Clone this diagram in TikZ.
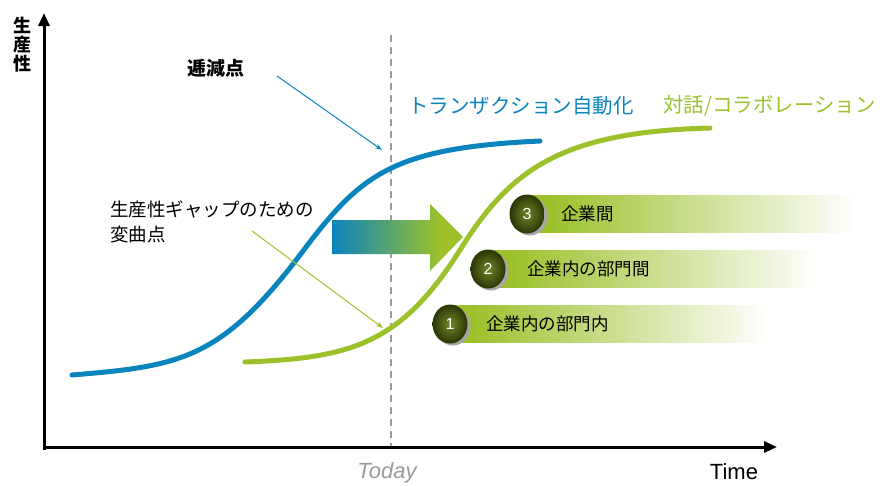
\documentclass[tikz,border=0pt]{standalone}
\usepackage{fontspec}
\setmainfont{Liberation Sans}
\newfontfamily\jp{Noto Sans CJK JP}
\usetikzlibrary{arrows.meta}
\definecolor{tblue}{HTML}{0A84BC}
\definecolor{tgreen}{HTML}{9CC12B}
\definecolor{ballin}{HTML}{71862A}
\definecolor{ballout}{HTML}{2B3605}
\definecolor{dgray}{HTML}{9A9A9A}
\pgfdeclarehorizontalshading{barfade}{100bp}{color(0bp)=(tgreen); color(28bp)=(tgreen); color(74bp)=(white); color(100bp)=(white)}
\pgfdeclarehorizontalshading{bigarrow}{100bp}{color(0bp)=(tblue); color(25bp)=(tblue); color(66bp)=(tgreen); color(100bp)=(tgreen)}
\tikzset{
  axis/.style={line width=3pt, -{Triangle[length=13pt,width=11pt]}},
  curve/.style={line width=5pt, line cap=round},
  pointer/.style={line width=1pt, -{Stealth[length=7pt,width=5pt]}},
  bar/.style={shading=barfade},
  ballshade/.style={inner color=ballin, outer color=ballout},
  ballnode/.style={circle, minimum width=34pt, minimum height=34pt, inner sep=0pt, text=white, font=\fontsize{16}{16}\selectfont},
  bartext/.style={anchor=west, font=\jp\fontsize{17.5}{17.5}\selectfont, inner sep=0pt},
  jlabel/.style={font=\jp\fontsize{18.5}{25}\selectfont, inner sep=0pt},
}
\begin{document}
\begin{tikzpicture}[x=1pt,y=-1pt]
\useasboundingbox (0,0) rectangle (885,485);
% dashed today line
\coordinate (dtop) at (391,35);
\coordinate (dbot) at (391,447);
\draw[dgray, line width=1.5pt, dash pattern=on 7pt off 5pt] (dtop) -- (dbot);
% axes
\coordinate (origin) at (44,447);
\coordinate (ytip) at (44,13);
\coordinate (xtip) at (777,447);
\draw[axis] (44,450) -- (ytip);
\draw[axis] (origin) -- (xtip);
\node[font=\jp\bfseries\fontsize{18}{19}\selectfont, align=center, inner sep=0pt] (ylab) at (22,45) {生\\産\\性};
\node[font=\fontsize{22}{22}\selectfont\itshape, text=dgray, inner sep=0pt] (today) at (387,473) {Today};
\node[font=\fontsize{22}{22}\selectfont, inner sep=0pt] (time) at (734,472) {Time};
% curves
\draw[curve, tblue] (72,375) .. controls (180,366) and (220,360) .. (300,255) .. controls (360,175) and (390,148) .. (540,141);
\draw[curve, tgreen] (245,362) .. controls (350,358) and (400,345) .. (460,250) .. controls (510,170) and (560,132) .. (710,128);
% labels
\node[jlabel, font=\jp\bfseries\fontsize{19}{20}\selectfont] (dim) at (216,68) {逓減点};
\node[jlabel, text=tblue, font=\jp\fontsize{20.5}{20}\selectfont, anchor=west] (tx) at (408,106) {トランザクション自動化};
\node[jlabel, text=tgreen, font=\jp\fontsize{20.5}{20}\selectfont, anchor=west] (co) at (663,106) {対話/コラボレーション};
\node[jlabel, align=left, anchor=north west] (gap) at (110,201) {生産性ギャップのための\\変曲点};
\coordinate (p1s) at (277,76);
\coordinate (p1e) at (382,150);
\coordinate (p2s) at (252,231);
\coordinate (p2e) at (383,328);
\draw[pointer, tblue] (p1s) -- (p1e);
\draw[pointer, tgreen] (p2s) -- (p2e);
% big arrow
\shade[shading=bigarrow] (332,220) -- (430,220) -- (430,204) -- (463,237) -- (430,271) -- (430,254) -- (332,254) -- cycle;
% bars
\shade[bar] (528,195) rectangle (862,232);
\shade[bar] (488,250) rectangle (826,287);
\shade[bar] (450,305) rectangle (777,342);
\fill[black!35] (530,216) ellipse (17.5pt and 19.5pt);
\fill[black!35] (491,271) ellipse (17.5pt and 19.5pt);
\fill[black!35] (453,326) ellipse (17.5pt and 19.5pt);
\shade[ballshade] (527,214) ellipse (17.5pt and 19.5pt);
\shade[ballshade] (488,269) ellipse (17.5pt and 19.5pt);
\shade[ballshade] (450,324) ellipse (17.5pt and 19.5pt);
\node[ballnode] (b3) at (527,214) {3};
\node[ballnode] (b2) at (488,269) {2};
\node[ballnode] (b1) at (450,324) {1};
\node[bartext] (t3) at (561,214) {企業間};
\node[bartext] (t2) at (527,269) {企業内の部門間};
\node[bartext] (t1) at (486,324) {企業内の部門内};
\end{tikzpicture}
\end{document}
